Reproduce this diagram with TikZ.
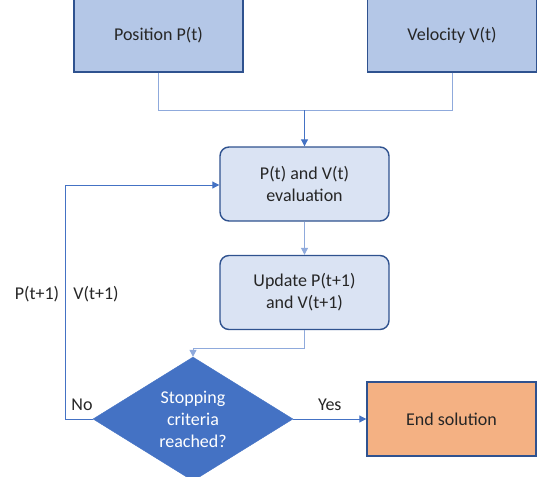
\documentclass[tikz,border=0pt]{standalone}
\usepackage{fontspec}
\setmainfont{Carlito}
\usetikzlibrary{shapes.geometric,arrows.meta}
\definecolor{topfill}{HTML}{B4C7E7}
\definecolor{boxedge}{HTML}{2F528F}
\definecolor{procfill}{HTML}{DAE3F3}
\definecolor{decfill}{HTML}{4472C4}
\definecolor{endfill}{HTML}{F4B183}
\definecolor{conn}{HTML}{4472C4}
\definecolor{connlight}{HTML}{8FAADC}
\definecolor{txt}{HTML}{262626}
\tikzset{
  x=1pt, y=-1pt,
  every node/.style={font=\fontsize{18}{22}\selectfont, text=txt, align=center},
  inbox/.style={draw=boxedge, line width=1.4pt, fill=topfill, minimum width=169pt, minimum height=74pt, inner sep=0pt},
  procbox/.style={draw=boxedge, line width=1.4pt, fill=procfill, rounded corners=9pt, minimum width=169pt, minimum height=74pt, inner sep=0pt},
  decbox/.style={diamond, draw=decfill, fill=decfill, minimum width=200pt, minimum height=107pt, inner sep=0pt, text=white},
  endbox/.style={draw=boxedge, line width=1.4pt, fill=endfill, minimum width=169pt, minimum height=74pt, inner sep=0pt},
  conline/.style={draw=conn, line width=1pt},
  arr/.style={conline, -{Triangle[length=7pt,width=7pt]}},
  lbl/.style={font=\fontsize{18}{20}\selectfont}
}
\begin{document}
\begin{tikzpicture}
\useasboundingbox (0,0) rectangle (542,477);
\node[inbox] (pos) at (158.5,35) {Position P(t)};
\node[inbox] (vel) at (452,35) {Velocity V(t)};
\node[procbox] (eval) at (304.5,184) {P(t) and V(t)\\evaluation};
\node[procbox] (upd) at (304.5,292.5) {Update P(t+1)\\and V(t+1)};
\node[decbox] (dec) at (193,419) {Stopping\\criteria\\reached?};
\node[endbox] (end) at (451.5,419) {End solution};
\coordinate (merge) at (304.5,110);
\coordinate (bend) at (193,348);
\coordinate (loopb) at (65,419);
\coordinate (loopt) at (65,185);
\draw[conline, draw=connlight] (pos.south) |- (merge);
\draw[conline, draw=connlight] (vel.south) |- (merge);
\draw[arr] (merge) -- (eval.north);
\draw[arr, draw=connlight] (eval.south) -- (upd.north);
\draw[arr, draw=connlight] (upd.south) |- (bend) -- (dec.north);
\draw[arr] (dec.east) -- node[lbl, above=5pt] {Yes} (end.west);
\draw[arr] (dec.west) -- (loopb) -- (loopt) -- (eval.west |- loopt);
\node[lbl] (no) at (82,405) {No};
\node[lbl] (pl) at (37,294) {P(t+1)};
\node[lbl] (vl) at (96,294) {V(t+1)};
\end{tikzpicture}
\end{document}
